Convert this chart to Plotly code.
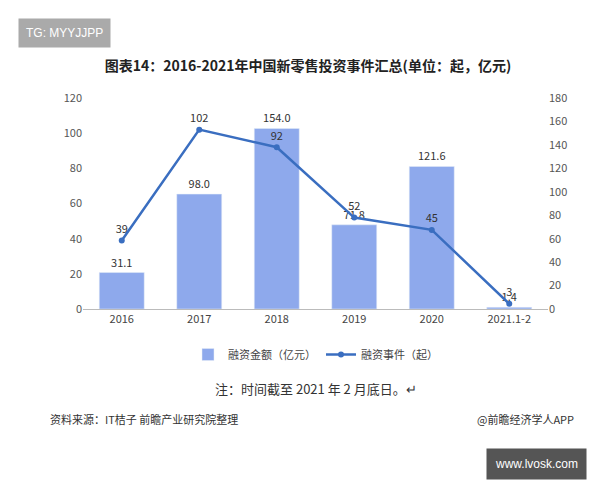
import plotly.graph_objects as go

years = ["2016", "2017", "2018", "2019", "2020", "2021.1-2"]
amount = [31.1, 98.0, 154.0, 71.8, 121.6, 1.4]
amount_labels = ["31.1", "98.0", "154.0", "71.8", "121.6", "1.4"]
events = [39, 102, 92, 52, 45, 3]
left_ticks = [0, 20, 40, 60, 80, 100, 120]
right_ticks = [0, 20, 40, 60, 80, 100, 120, 140, 160, 180]

F = "Noto Sans CJK SC"
T, H = 90, 211
def py(pix):
    return (T + H - pix) / H
L, W = 75, 465
def px(pix):
    return (pix - L) / W

fig = go.Figure()
fig.add_trace(go.Bar(x=years, y=amount, yaxis="y", name="融资金额（亿元）",
                     marker_color="#8EA9EC", width=0.58,
                     text=amount_labels, textposition="outside",
                     textfont=dict(size=11, color="#333"), cliponaxis=False))
fig.add_trace(go.Scatter(x=years, y=events, yaxis="y2", name="融资事件（起）", mode="lines+markers+text",
                         line=dict(color="#3A6EC0", width=2.5), marker=dict(size=6, color="#3A6EC0"),
                         text=[str(v) for v in events], textposition="top center",
                         textfont=dict(size=11, color="#333"), cliponaxis=False))
fig.update_layout(
    width=600, height=480, margin=dict(l=L, r=600 - L - W, t=T, b=480 - T - H),
    paper_bgcolor="white", plot_bgcolor="white",
    font=dict(family=F, size=11, color="#444"),
    title=dict(text="<b>图表14：2016-2021年中国新零售投资事件汇总(单位：起，亿元)</b>",
               x=0.5, y=1 - 58 / 480, xanchor="center", yanchor="middle", font=dict(size=14, color="#222")),
    xaxis=dict(showline=True, linecolor="#bbb", tickfont=dict(size=11, color="#444")),
    yaxis=dict(range=[0, 180], tickvals=right_ticks, side="right", showgrid=False,
               tickfont=dict(size=11, color="#555")),
    yaxis2=dict(range=[0, 120], tickvals=left_ticks, overlaying="y", side="left", showgrid=False,
                tickfont=dict(size=11, color="#555")),
    legend=dict(orientation="h", x=0.5, xanchor="center", y=py(332), yanchor="top",
                font=dict(size=11, color="#444"), traceorder="normal"),
    bargap=0.4,
    annotations=[
        dict(text="TG: MYYJJPP", xref="paper", yref="paper", x=px(10), xanchor="left", y=py(25),
             yanchor="middle", showarrow=False, bgcolor="#aaaaaa", borderpad=7,
             font=dict(size=12, color="white", family="Liberation Sans")),
        dict(text="注：时间截至 2021 年 2 月底日。↵", xref="paper", yref="paper", x=0.5, y=py(392),
             showarrow=False, font=dict(size=13, color="#333")),
        dict(text="资料来源：IT桔子 前瞻产业研究院整理", xref="paper", yref="paper", x=px(40),
             xanchor="left", y=py(421), showarrow=False, font=dict(size=11, color="#333")),
        dict(text="@前瞻经济学人APP", xref="paper", yref="paper", x=px(568), xanchor="right",
             y=py(421), showarrow=False, font=dict(size=11, color="#333")),
        dict(text="www.lvosk.com", xref="paper", yref="paper", x=px(478), xanchor="left", y=py(456),
             yanchor="middle", showarrow=False, bgcolor="#555555", borderpad=8,
             font=dict(size=12, color="white", family="Liberation Sans")),
    ],
)
fig.write_html("out.html")
